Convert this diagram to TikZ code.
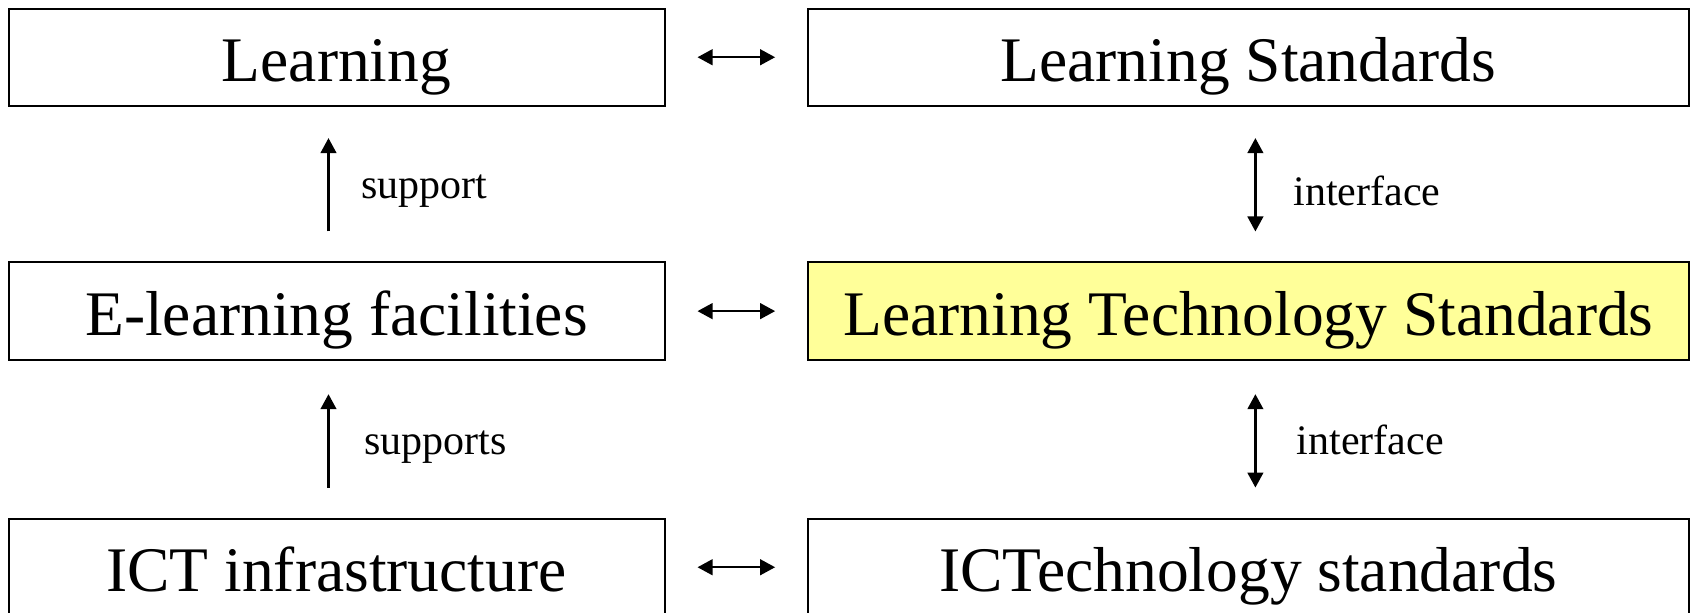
\documentclass[tikz,border=0pt]{standalone}
\usepackage{fontspec}
\setmainfont{Liberation Serif}
\usetikzlibrary{arrows.meta}
\definecolor{boxyellow}{RGB}{255,255,153}
\begin{document}
\begin{tikzpicture}[x=0.5pt,y=-0.5pt,
  box/.style={draw=black, line width=1pt, fill=white, inner sep=0pt,
    minimum height=48.65pt, font=\fontsize{31.75}{36}\selectfont,
    text height=26pt, text depth=2pt},
  leftbox/.style={box, minimum width=328pt},
  rightbox/.style={box, minimum width=440.25pt},
  lab/.style={font=\fontsize{21}{24}\selectfont, inner sep=0pt, anchor=base west},
  conn/.style={line width=1.2pt, draw=black},
  both/.style={conn, {Triangle[length=7.5pt,width=7.8pt]}-{Triangle[length=7.5pt,width=7.8pt]}},
  up/.style={conn, -{Triangle[length=7.5pt,width=7.8pt]}}
]
\useasboundingbox (0,0) rectangle (1694,613);
\clip (0,0) rectangle (1694,613);

% boxes
\node[leftbox]  (learn)   at (336.5,57.25)  {Learning};
\node[rightbox] (lstd)    at (1248.4,57.25) {Learning Standards};
\node[leftbox]  (elearn)  at (336.5,311.15) {E-learning facilities};
\node[rightbox, fill=boxyellow] (ltstd) at (1248.4,311.15) {Learning Technology Standards};
\node[leftbox]  (ict)     at (336.5,567.25) {ICT infrastructure};
\node[rightbox] (ictstd)  at (1248.4,567.25) {ICTechnology standards};

% horizontal links
\draw[both, shorten <=16pt, shorten >=16pt] (learn.east) -- (lstd.west);
\draw[both, shorten <=16pt, shorten >=16pt] (elearn.east) -- (ltstd.west);
\draw[both, shorten <=16pt, shorten >=16pt] (ict.east) -- (ictstd.west);

% left column: support arrows
\draw[up, shorten <=15pt, shorten >=15.6pt] ([xshift=-4pt]elearn.north) -- ([xshift=-4pt]learn.south);
\draw[up, shorten <=15pt, shorten >=16.7pt] ([xshift=-4pt]ict.north) -- ([xshift=-4pt]elearn.south);

% right column: interface arrows
\draw[both, shorten <=15.6pt, shorten >=15pt] ([xshift=3.5pt]lstd.south) -- ([xshift=3.5pt]ltstd.north);
\draw[both, shorten <=16.7pt, shorten >=15pt] ([xshift=3.5pt]ltstd.south) -- ([xshift=3.5pt]ictstd.north);

% labels
\node[lab] (lsupport)  at (360.9,198.5)  {support};
\node[lab] (lsupports) at (364.1,454.5)  {supports};
\node[lab] (liface1)   at (1293.2,205.2) {interface};
\node[lab] (liface2)   at (1296.5,454.5) {interface};
\end{tikzpicture}
\end{document}
